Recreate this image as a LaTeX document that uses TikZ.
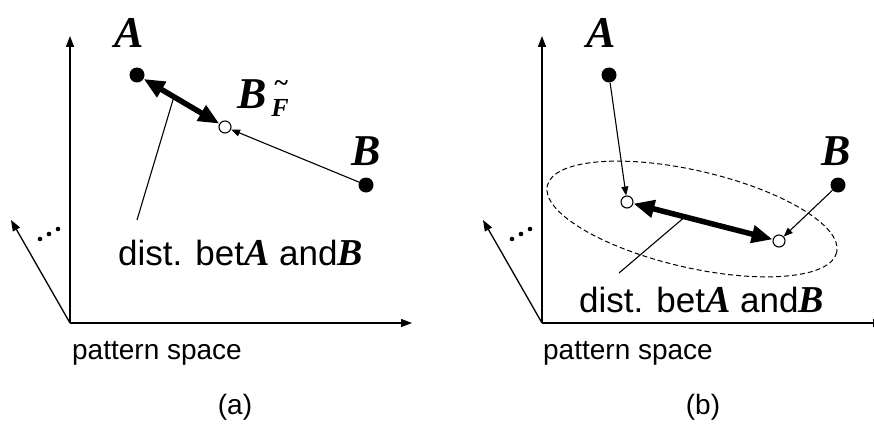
\documentclass[tikz,border=0pt]{standalone}
\usepackage{fontspec}
\setmainfont{Liberation Sans}
\newfontfamily\tms{Liberation Serif}
\usetikzlibrary{arrows.meta}
\tikzset{
  axisarr/.style={line width=1.3pt,-{Triangle[length=11pt,width=8pt]}},
  thinarr/.style={line width=1.1pt,-{Triangle[length=9pt,width=7pt]}},
  thickarr/.style={line width=5.5pt,{Triangle[length=21pt,width=17pt]}-{Triangle[length=21pt,width=17pt]}},
  leader/.style={line width=1.1pt},
  fdot/.style={circle,fill=black,inner sep=0pt,minimum size=15pt},
  odot/.style={circle,draw=black,fill=white,line width=1.1pt,inner sep=0pt,minimum size=12pt},
  sdot/.style={circle,fill=black,inner sep=0pt,minimum size=4.6pt},
  letter/.style={font=\tms\bfseries\itshape\fontsize{44}{44}\selectfont,inner sep=0pt,anchor=base},
  subletter/.style={font=\tms\bfseries\itshape\fontsize{26}{26}\selectfont,inner sep=0pt},
  disttext/.style={font=\fontsize{35}{35}\selectfont,inner sep=0pt,anchor=base west},
  captext/.style={font=\fontsize{28}{28}\selectfont,inner sep=0pt,anchor=base},
  ellip/.style={line width=1pt,dash pattern=on 5pt off 3pt}
}
\newcommand{\AB}[1]{{\tms\bfseries\itshape\fontsize{38}{38}\selectfont #1}}
\begin{document}
\begin{tikzpicture}[x=1pt,y=-1pt]
\useasboundingbox (0,0) rectangle (874,425);
\clip (0,0) rectangle (874,425);
% ---------- panel (a) ----------
\coordinate (oa) at (70,323);
\coordinate (ya) at (70,36);
\coordinate (xa) at (412,323);
\coordinate (da) at (11,220);
\draw[axisarr] (oa) -- (ya);
\draw[axisarr] (oa) -- (xa);
\draw[axisarr] (oa) -- (da);
\node[sdot] (a1) at (40,239) {};
\node[sdot] (a2) at (49,234) {};
\node[sdot] (a3) at (58,229) {};
\node[fdot] (Aa) at (137,75) {};
\node[fdot] (Ba) at (366,185) {};
\node[odot] (Fa) at (225,127) {};
\node[letter] (lAa) at (129,48) {A};
\node[letter] (lBa) at (366,165) {B};
\node[letter] (lFa) at (252,108) {B};
\node[subletter,anchor=base] (sFa) at (280,116) {F};
\node[subletter,anchor=center] (tFa) at (281,86) {\textasciitilde};
\draw[thinarr] (Ba) -- (Fa);
\draw[thickarr] (Aa) -- node[pos=0.4,coordinate] (ta) {} (Fa);
\coordinate (ea) at (137,220);
\draw[leader] (ta) -- (ea);
\node[disttext] (txa) at (118,265) {dist. bet\AB{A} and\AB{B}};
\node[captext] (psa) at (157,359) {pattern space};
\node[captext] (capa) at (235,414) {(a)};
% ---------- panel (b) ----------
\coordinate (ob) at (542,323);
\coordinate (yb) at (542,36);
\coordinate (xb) at (884,323);
\coordinate (db) at (483,220);
\draw[axisarr] (ob) -- (yb);
\draw[axisarr] (ob) -- (xb);
\draw[axisarr] (ob) -- (db);
\node[sdot] (b1) at (512,239) {};
\node[sdot] (b2) at (521,234) {};
\node[sdot] (b3) at (530,229) {};
\draw[ellip] (692,219) ellipse [x radius=148.5, y radius=48.5, rotate=-13];
\node[fdot] (Ab) at (609,75) {};
\node[fdot] (Bb) at (838,185) {};
\node[odot] (Pb) at (627,202) {};
\node[odot] (Qb) at (779,241) {};
\node[letter] (lAb) at (601,48) {A};
\node[letter] (lBb) at (836,165) {B};
\draw[thinarr] (Ab) -- (Pb);
\draw[thinarr] (Bb) -- (Qb);
\draw[thickarr] (Pb) -- node[pos=0.37,coordinate] (tb) {} (Qb);
\coordinate (eb) at (619,273);
\draw[leader] (tb) -- (eb);
\node[disttext] (txb) at (579,312) {dist. bet\AB{A} and\AB{B}};
\node[captext] (psb) at (628,359) {pattern space};
\node[captext] (capb) at (703,414) {(b)};
\end{tikzpicture}
\end{document}
